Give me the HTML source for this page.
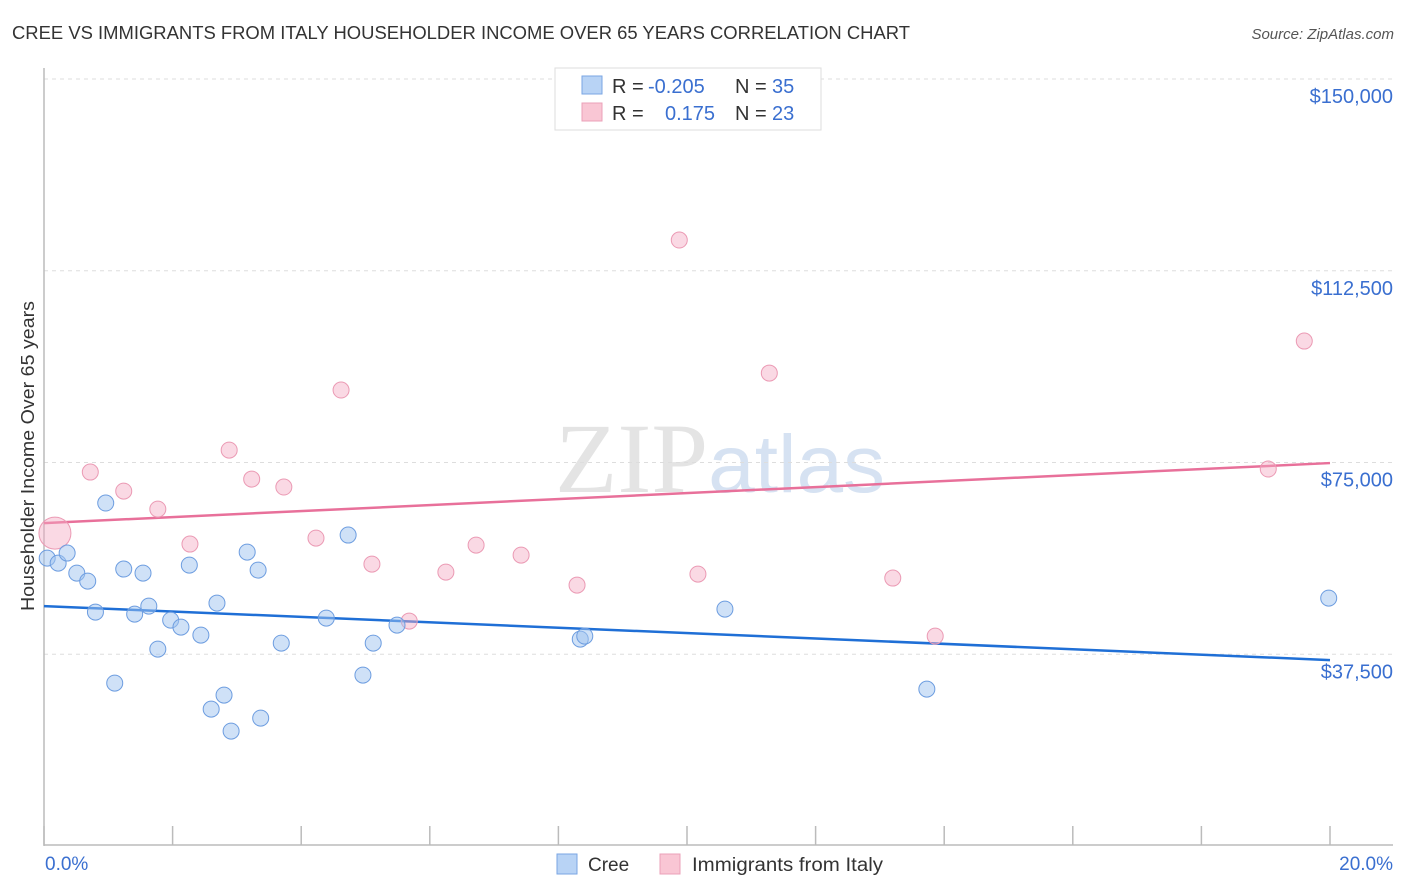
<!DOCTYPE html>
<html><head><meta charset="utf-8">
<style>
body{margin:0;background:#fff;font-family:"Liberation Sans",sans-serif;}
svg{display:block}
</style></head>
<body>
<svg id="chart" width="1406" height="892" xmlns="http://www.w3.org/2000/svg">
<text x="12" y="39" font-size="18" fill="#333" textLength="898" lengthAdjust="spacingAndGlyphs">CREE VS IMMIGRANTS FROM ITALY HOUSEHOLDER INCOME OVER 65 YEARS CORRELATION CHART</text>
<text x="1394" y="39" font-size="15" fill="#555" text-anchor="end" font-style="italic">Source: ZipAtlas.com</text>
<text x="720" y="492" font-size="100" text-anchor="middle" fill="#e4e4e4" font-family="Liberation Serif, serif" textLength="330" lengthAdjust="spacingAndGlyphs">ZIP<tspan fill="#d6e2f2" font-family="Liberation Sans, sans-serif" font-size="82">atlas</tspan></text>
<g id="grid"></g>
<g id="axes"></g>
<g id="lines"></g>
<g id="points"></g>
<text transform="translate(34,456) rotate(-90)" font-size="18" fill="#333" text-anchor="middle" textLength="310" lengthAdjust="spacingAndGlyphs">Householder Income Over 65 years</text>
<text x="45" y="870" font-size="19" fill="#3a6fd0">0.0%</text>
<text x="1393" y="870" font-size="19" fill="#3a6fd0" text-anchor="end">20.0%</text>
<g>
<rect x="555" y="68" width="266" height="62" fill="#fff" stroke="#ddd"/>
<rect x="582" y="76" width="20" height="18" fill="#b8d3f5" stroke="#7aa6e3"/>
<rect x="582" y="103" width="20" height="18" fill="#f9c6d4" stroke="#eba0b8"/>
<text x="612" y="93" font-size="20" fill="#333">R = <tspan x="648" fill="#3a6fd0">-0.205</tspan><tspan x="735">N = </tspan><tspan x="772" fill="#3a6fd0">35</tspan></text>
<text x="612" y="120" font-size="20" fill="#333">R = <tspan x="665" fill="#3a6fd0">0.175</tspan><tspan x="735">N = </tspan><tspan x="772" fill="#3a6fd0">23</tspan></text>
</g>
<g>
<rect x="557" y="854" width="20" height="20" fill="#b8d3f5" stroke="#7aa6e3"/>
<text x="588" y="871" font-size="19" fill="#333">Cree</text>
<rect x="660" y="854" width="20" height="20" fill="#f9c6d4" stroke="#eba0b8"/>
<text x="692" y="871" font-size="19" fill="#333" textLength="191" lengthAdjust="spacingAndGlyphs">Immigrants from Italy</text>
</g>
</svg>
<script>
const yTicks=[150000,112500,75000,37500];
const yTickLabels=["$150,000","$112,500","$75,000","$37,500"];
const xTicks=[0,2,4,6,8,10,12,14,16,18,20];
const creeX=[0.05,0.22,0.36,0.51,0.68,0.80,0.96,1.10,1.24,1.41,1.54,1.63,1.77,1.97,2.13,2.26,2.44,2.60,2.69,2.80,2.91,3.16,3.33,3.37,3.69,4.39,4.73,4.96,5.12,5.49,8.34,8.41,10.59,13.73,19.98];
const creeY=[56300,55330,57290,53370,51810,45750,67070,31860,54160,45350,53370,46920,38510,44180,42810,54940,41250,26770,47510,29510,22470,57480,53960,25010,39680,44570,60810,33420,39680,43200,40460,41050,46330,30680,48480];
const italyX=[0.17,0.72,1.24,1.77,2.27,2.88,3.23,3.73,4.23,4.62,5.10,5.68,6.25,6.72,7.42,8.29,9.88,10.17,11.28,13.20,13.86,19.04,19.60];
const italyY=[61200,73130,69410,65890,59050,77430,71760,70200,60220,89170,55130,43990,53570,58850,56890,51030,118510,53180,92490,52400,41050,73720,98750];
const creeTrend=[46920,36360];
const italyTrend=[63150,74890];
const NS="http://www.w3.org/2000/svg";
const xs=v=>44+v/20*1286;
const ys=v=>846-v/150000*767;
function mk(tag,attrs,parent){const e=document.createElementNS(NS,tag);for(const k in attrs)e.setAttribute(k,attrs[k]);document.getElementById(parent).appendChild(e);return e;}
yTicks.forEach((t,i)=>{
 const l=mk('line',{x1:44,x2:1393,y1:ys(t),y2:ys(t),stroke:'#ddd','stroke-dasharray':'4,4'},'grid');
 
 
 const tx=mk('text',{x:1393,y:ys(t)+24,'font-size':20,fill:'#3a6fd0','text-anchor':'end'},'grid');
 tx.textContent=yTickLabels[i];
 
 
});
const ya=mk('line',{x1:44,x2:44,y1:68,y2:846,stroke:'#bbb','stroke-width':1.5},'axes');


const xa=mk('line',{x1:44,x2:1393,y1:845,y2:845,stroke:'#bbb','stroke-width':1.5},'axes');


xTicks.forEach(t=>{
 const l=mk('line',{x1:xs(t),x2:xs(t),y1:826,y2:845,stroke:'#bbb','stroke-width':1.5},'axes');
 
 
});
const bl=mk('line',{x1:xs(0),x2:xs(20),y1:ys(creeTrend[0]),y2:ys(creeTrend[1]),stroke:'#1f6fd6','stroke-width':2.5},'lines');


const pl=mk('line',{x1:xs(0),x2:xs(20),y1:ys(italyTrend[0]),y2:ys(italyTrend[1]),stroke:'#e8709a','stroke-width':2.5},'lines');


italyX.forEach((x,i)=>{
 const c=mk('circle',{cx:xs(x),cy:ys(italyY[i]),r:i===0?16:8,fill:'rgba(245,170,195,0.45)',stroke:'#eb9ab4','stroke-width':1},'points');
 
 
});
creeX.forEach((x,i)=>{
 const c=mk('circle',{cx:xs(x),cy:ys(creeY[i]),r:8,fill:'rgba(160,195,240,0.5)',stroke:'#6d9de0','stroke-width':1},'points');
 
 
});
</script>
</body></html>
